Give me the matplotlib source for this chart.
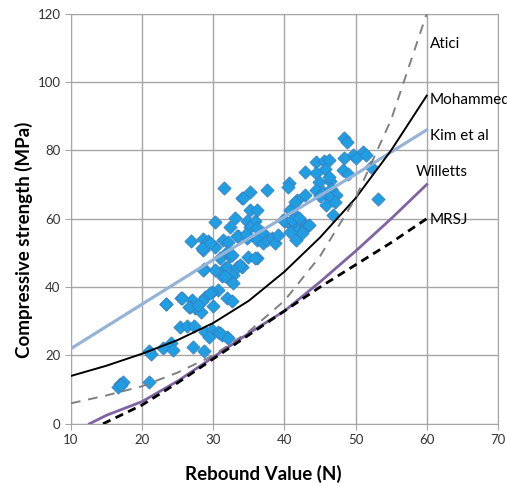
import numpy as np
import matplotlib.pyplot as plt

plt.rcParams['font.family'] = ['Lato', 'DejaVu Sans']

# measured points (rebound value, compressive strength)
rebound = [31.5, 34.0, 30.3, 33.0, 32.3, 26.9, 28.5, 29.3, 28.5, 30.2, 31.3, 32.1, 33.5,
           30.9, 32.3, 28.7, 30.2, 31.6, 32.8, 31.2, 34.0, 34.7,
           48.4, 48.8, 49.7, 51.1, 51.4, 50.1, 48.4, 52.2, 53.2, 44.5, 45.5, 46.3, 45.7,
           44.4, 42.9, 48.2, 49.0, 40.7, 40.5, 44.9, 46.4, 44.4, 45.4, 46.6, 47.3, 46.2,
           45.0, 42.9, 41.7, 45.9, 47.1, 46.8, 37.5, 35.2, 34.2, 35.2, 36.1, 35.9, 40.8,
           41.7, 41.5, 42.9, 40.1, 46.2,
           32.3, 32.8, 30.7, 29.8, 28.8, 25.5, 27.0, 23.3, 28.4, 26.7, 27.4, 28.3, 29.9,
           31.9, 32.6, 25.3, 26.3, 27.3, 28.8, 29.8, 30.7, 31.2, 31.9, 29.4, 20.9, 21.3,
           23.0, 24.0, 24.4, 27.2, 28.7, 16.9, 17.3, 16.6, 20.9, 17.1,
           29.5, 33.3, 34.7, 36.1, 37.0, 28.4, 31.9, 32.6, 34.9, 36.1, 28.6, 31.9, 33.3,
           31.6, 23.4, 25.6, 26.6, 27.9, 29.5, 30.9, 32.1,
           35.2, 36.1, 34.6, 37.0, 37.5, 38.2, 38.7, 39.1, 35.9, 33.7, 41.2, 41.9, 43.1,
           40.8, 41.6, 42.4, 39.8, 41.0, 43.4, 42.1]
strength = [69.1, 66.0, 58.9, 60.1, 57.5, 53.6, 54.0, 53.6, 50.9, 51.7, 53.8, 53.3, 54.8,
            48.4, 49.1, 45.2, 45.0, 45.5, 43.6, 43.3, 46.0, 59.2,
            83.5, 82.3, 78.7, 79.6, 78.7, 77.7, 77.7, 75.0, 65.7, 76.5, 76.9, 77.2, 74.5,
            73.3, 73.8, 74.3, 73.1, 70.4, 69.4, 70.8, 71.1, 68.4, 67.9, 68.6, 67.0, 66.3,
            66.5, 67.0, 65.5, 64.0, 65.0, 61.1, 68.4, 67.9, 66.0, 62.4, 62.4, 59.2, 62.4,
            60.6, 65.0, 58.2, 59.2, 72.3,
            42.1, 41.1, 39.2, 38.5, 37.2, 36.9, 36.3, 35.0, 36.0, 34.3, 34.0, 32.8, 34.6,
            36.9, 35.8, 28.2, 28.5, 28.5, 27.0, 27.5, 27.0, 26.0, 25.5, 25.5, 21.3, 20.4,
            22.3, 23.6, 21.6, 22.6, 21.3, 11.6, 12.2, 10.9, 12.2, 11.4,
            52.8, 54.8, 54.3, 53.8, 52.8, 51.4, 50.4, 49.4, 48.9, 48.4, 45.0, 46.0, 46.0,
            43.1, 35.1, 36.8, 34.1, 34.8, 38.2, 26.5, 25.0,
            57.7, 57.2, 55.5, 55.8, 53.8, 54.3, 52.8, 55.3, 48.6, 46.5, 57.7, 56.7, 57.7,
            56.0, 53.8, 55.8, 59.6, 59.6, 58.2, 60.1]

kim_x = [10, 20, 30, 40, 50, 60]
kim_y = [22, 35, 48, 60.5, 73, 86]
moh_x = [10, 15, 20, 25, 30, 35, 40, 45, 50, 55, 60]
moh_y = [14, 17, 20.5, 24.5, 29.5, 36, 44.5, 54.5, 66, 80, 96]
atici_x = [10, 15, 20, 25, 30, 35, 40, 45, 50, 55, 60]
atici_y = [6, 8.3, 11, 15, 20, 27, 36, 49, 66, 89, 120]
will_x = [12.6, 15, 20, 25, 30, 35, 40, 45, 50, 55, 60]
will_y = [0, 2.5, 6.5, 12.5, 19.5, 26.5, 33, 41.5, 50.5, 60, 70]
mrsj_x = [14.5, 20, 25, 30, 35, 40, 45, 50, 55, 60]
mrsj_y = [0, 5.5, 12, 19, 26, 33, 40, 46.5, 53, 60]

fig = plt.figure(figsize=(5.07, 4.86), dpi=100)
ax = fig.add_axes([0.140, 0.128, 0.842, 0.844])

ax.scatter(rebound, strength, marker='D', s=45, color='#1F9FE2',
           edgecolor='#3A7FC4', linewidth=0.6, zorder=3)

ax.plot(kim_x, kim_y, color='#95B3D7', lw=2.3, zorder=4)
ax.plot(moh_x, moh_y, color='black', lw=1.4, zorder=4)
ax.plot(atici_x, atici_y, color='#808080', lw=1.4, ls=(0, (5, 4)), zorder=4)
ax.plot(will_x, will_y, color='#8064A2', lw=2.0, zorder=4)
ax.plot(mrsj_x, mrsj_y, color='black', lw=2.0, ls=(0, (3, 2)), zorder=4)

# series labels (the reference cuts "Mohammed" at the right edge)
ax.text(60.4, 111, 'Atici', fontsize=11, va='center', clip_on=False)
ax.text(60.4, 94.7, 'Mohammed', fontsize=11, va='center', clip_on=False)
ax.text(60.4, 84.2, 'Kim et al', fontsize=11, va='center', clip_on=False)
ax.text(58.4, 73.6, 'Willetts', fontsize=11, va='center', clip_on=False)
ax.text(60.4, 59.6, 'MRSJ', fontsize=11, va='center', clip_on=False)

ax.set_xlim(10, 70)
ax.set_ylim(0, 120)
ax.set_xticks(np.arange(10, 71, 10))
ax.set_yticks(np.arange(0, 121, 20))
ax.grid(True, color='#A6A6A6', lw=1.0)
ax.set_axisbelow(True)
for sp in ax.spines.values():
    sp.set_color('#A6A6A6')
ax.tick_params(colors='#A6A6A6', labelcolor='#333333', labelsize=9.5, length=4)

ax.set_xlabel('Rebound Value (N)', fontsize=13.5, fontweight='bold')
ax.set_ylabel('Compressive strength (MPa)', fontsize=13.5, fontweight='bold')
ax.xaxis.set_label_coords(0.451, -0.100)
ax.yaxis.set_label_coords(-0.089, 0.448)

fig.savefig('out.png', dpi=100)
plt.close(fig)
